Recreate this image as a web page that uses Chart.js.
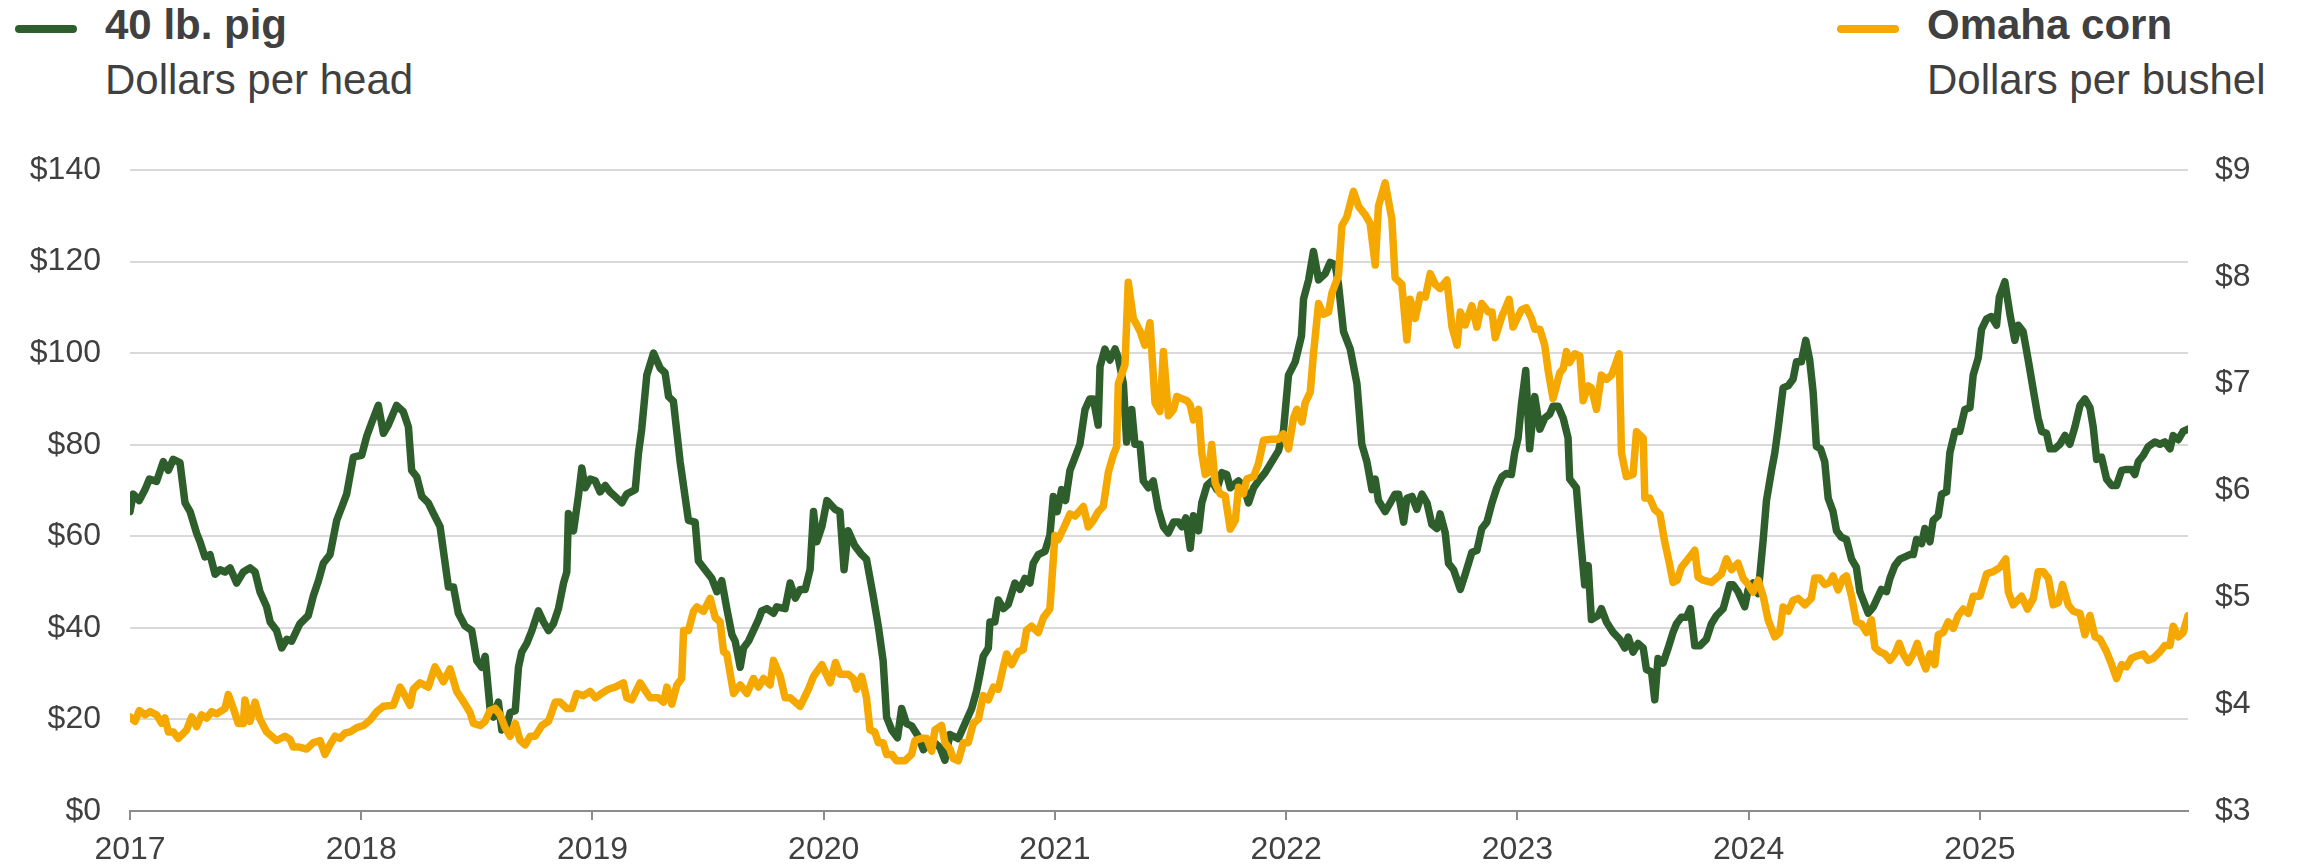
<!DOCTYPE html>
<html lang="en">
  <head>
    <meta charset="utf-8">
    <title>40 lb. pig vs Omaha corn</title>
    <script src="https://cdn.jsdelivr.net/npm/chart.js@4.4.1/dist/chart.umd.min.js"></script>
    <style>
      body { margin: 0; background: #fff; }
      #wrap { position: relative; width: 2300px; height: 867px; font-family: "Liberation Sans", Arial, sans-serif; color: #404040; }
      .key { position: absolute; height: 8px; border-radius: 4px; }
      .lab { position: absolute; font-size: 42px; line-height: 42px; white-space: nowrap; }
      .lab b { font-weight: bold; }
    </style>
  </head>
  <body>
    <div id="wrap">
      <div class="key" style="left:15px; top:25px; width:62px; background:#2f5e2d;"></div>
      <div class="lab" style="left:105px; top:4px;"><b>40 lb. pig</b></div>
      <div class="lab" style="left:105px; top:59px;">Dollars per head</div>
      <div class="key" style="left:1837px; top:25px; width:62px; background:#f5a800;"></div>
      <div class="lab" style="left:1927px; top:4px;"><b>Omaha corn</b></div>
      <div class="lab" style="left:1927px; top:59px;">Dollars per bushel</div>
      <canvas id="myChart" width="2300" height="867" style="position:absolute; left:0; top:0;"></canvas>
    </div>
    <script>
      // weekly-ish readings, x in decimal years
      const yearTicks = [2017, 2018, 2019, 2020, 2021, 2022, 2023, 2024, 2025];
      const pigTicks = [0, 20, 40, 60, 80, 100, 120, 140];
      const cornTicks = [3, 4, 5, 6, 7, 8, 9];

      const pigYears = [
        2017.000, 2017.014, 2017.040, 2017.065, 2017.084, 2017.115, 2017.144, 2017.166, 2017.187, 2017.216,
        2017.238, 2017.260, 2017.288, 2017.303, 2017.324, 2017.346, 2017.368, 2017.389, 2017.411, 2017.433,
        2017.461, 2017.490, 2017.519, 2017.541, 2017.562, 2017.591, 2017.606, 2017.634, 2017.656, 2017.678,
        2017.699, 2017.735, 2017.771, 2017.793, 2017.815, 2017.836, 2017.865, 2017.894, 2017.916, 2017.937,
        2017.966, 2018.002, 2018.024, 2018.045, 2018.074, 2018.096, 2018.117, 2018.153, 2018.182, 2018.204,
        2018.218, 2018.240, 2018.262, 2018.290, 2018.312, 2018.341, 2018.377, 2018.399, 2018.420, 2018.449,
        2018.478, 2018.500, 2018.521, 2018.536, 2018.557, 2018.572, 2018.593, 2018.608, 2018.629, 2018.644,
        2018.666, 2018.680, 2018.694, 2018.716, 2018.738, 2018.766, 2018.788, 2018.810, 2018.831, 2018.853,
        2018.875, 2018.889, 2018.896, 2018.918, 2018.939, 2018.954, 2018.968, 2018.990, 2019.012, 2019.033,
        2019.055, 2019.076, 2019.098, 2019.127, 2019.148, 2019.185, 2019.199, 2019.213, 2019.235, 2019.264,
        2019.293, 2019.314, 2019.329, 2019.350, 2019.379, 2019.415, 2019.444, 2019.458, 2019.487, 2019.516,
        2019.538, 2019.559, 2019.581, 2019.603, 2019.617, 2019.639, 2019.653, 2019.675, 2019.696, 2019.718,
        2019.732, 2019.754, 2019.783, 2019.797, 2019.833, 2019.855, 2019.877, 2019.898, 2019.920, 2019.941,
        2019.956, 2019.970, 2019.992, 2020.014, 2020.049, 2020.070, 2020.088, 2020.106, 2020.135, 2020.164,
        2020.185, 2020.214, 2020.236, 2020.257, 2020.272, 2020.294, 2020.319, 2020.337, 2020.358, 2020.380,
        2020.409, 2020.431, 2020.452, 2020.481, 2020.503, 2020.524, 2020.546, 2020.582, 2020.611, 2020.640,
        2020.661, 2020.676, 2020.690, 2020.712, 2020.719, 2020.740, 2020.755, 2020.777, 2020.798, 2020.827,
        2020.849, 2020.870, 2020.892, 2020.906, 2020.928, 2020.957, 2020.978, 2020.993, 2021.010, 2021.029,
        2021.046, 2021.065, 2021.087, 2021.108, 2021.130, 2021.151, 2021.166, 2021.187, 2021.195, 2021.216,
        2021.238, 2021.260, 2021.274, 2021.296, 2021.310, 2021.332, 2021.346, 2021.368, 2021.382, 2021.404,
        2021.425, 2021.447, 2021.469, 2021.490, 2021.513, 2021.534, 2021.549, 2021.566, 2021.585, 2021.599,
        2021.621, 2021.635, 2021.657, 2021.678, 2021.700, 2021.722, 2021.743, 2021.758, 2021.794, 2021.815,
        2021.837, 2021.859, 2021.880, 2021.909, 2021.938, 2021.967, 2021.988, 2022.010, 2022.039, 2022.066,
        2022.075, 2022.097, 2022.118, 2022.140, 2022.169, 2022.190, 2022.212, 2022.226, 2022.248, 2022.277,
        2022.306, 2022.327, 2022.349, 2022.371, 2022.385, 2022.399, 2022.428, 2022.450, 2022.471, 2022.486,
        2022.508, 2022.522, 2022.544, 2022.565, 2022.587, 2022.609, 2022.630, 2022.652, 2022.666, 2022.688,
        2022.702, 2022.724, 2022.753, 2022.774, 2022.803, 2022.825, 2022.846, 2022.868, 2022.890, 2022.911,
        2022.933, 2022.952, 2022.974, 2022.988, 2023.003, 2023.017, 2023.036, 2023.053, 2023.075, 2023.097,
        2023.118, 2023.140, 2023.154, 2023.176, 2023.198, 2023.219, 2023.226, 2023.255, 2023.270, 2023.291,
        2023.306, 2023.320, 2023.349, 2023.363, 2023.385, 2023.414, 2023.443, 2023.464, 2023.479, 2023.500,
        2023.522, 2023.544, 2023.558, 2023.580, 2023.594, 2023.608, 2023.630, 2023.652, 2023.673, 2023.688,
        2023.709, 2023.731, 2023.748, 2023.767, 2023.789, 2023.817, 2023.839, 2023.861, 2023.890, 2023.918,
        2023.933, 2023.954, 2023.983, 2023.998, 2024.019, 2024.041, 2024.063, 2024.077, 2024.099, 2024.113,
        2024.127, 2024.149, 2024.171, 2024.192, 2024.207, 2024.228, 2024.247, 2024.264, 2024.279, 2024.293,
        2024.311, 2024.329, 2024.344, 2024.365, 2024.380, 2024.401, 2024.423, 2024.445, 2024.466, 2024.481,
        2024.495, 2024.517, 2024.539, 2024.574, 2024.596, 2024.611, 2024.632, 2024.654, 2024.676, 2024.697,
        2024.712, 2024.726, 2024.748, 2024.762, 2024.784, 2024.798, 2024.820, 2024.834, 2024.856, 2024.870,
        2024.892, 2024.913, 2024.935, 2024.957, 2024.971, 2024.993, 2025.007, 2025.029, 2025.050, 2025.072,
        2025.084, 2025.108, 2025.130, 2025.151, 2025.166, 2025.187, 2025.209, 2025.231, 2025.252, 2025.267,
        2025.288, 2025.303, 2025.324, 2025.346, 2025.368, 2025.389, 2025.411, 2025.433, 2025.454, 2025.476,
        2025.490, 2025.505, 2025.526, 2025.548, 2025.570, 2025.591, 2025.613, 2025.634, 2025.656, 2025.670,
        2025.685, 2025.707, 2025.728, 2025.757, 2025.779, 2025.800, 2025.822, 2025.836, 2025.858, 2025.879,
        2025.900
      ];
      const pigValues = [
        65.4, 69.2, 67.8, 70.2, 72.5, 72.0, 76.3, 74.4, 76.8, 76.1,
        67.3, 65.4, 60.7, 58.8, 55.5, 56.0, 51.7, 52.7, 52.2, 53.1,
        49.8, 52.2, 53.1, 52.2, 47.9, 44.6, 41.3, 39.4, 35.6, 37.5,
        37.1, 40.9, 42.7, 47.0, 50.3, 54.1, 56.0, 63.5, 66.4, 69.2,
        77.3, 77.7, 81.9, 84.8, 88.6, 82.5, 84.3, 88.6, 87.2, 83.9,
        74.4, 73.0, 68.7, 67.3, 65.0, 62.1, 48.9, 48.9, 43.2, 40.4,
        39.4, 32.8, 31.4, 33.8, 22.4, 20.5, 23.8, 17.7, 18.6, 21.5,
        21.9, 31.4, 34.7, 36.6, 39.4, 43.7, 41.3, 39.4, 40.9, 44.2,
        49.8, 52.2, 65.0, 61.2, 68.7, 74.9, 70.6, 72.5, 72.1, 69.7,
        71.1, 69.7, 68.7, 67.3, 69.2, 70.2, 78.2, 83.4, 95.2, 100.0,
        96.7, 95.7, 90.5, 89.5, 76.3, 63.5, 63.1, 54.6, 52.7, 50.8,
        47.9, 50.3, 44.2, 38.5, 37.1, 31.4, 35.6, 37.1, 39.4, 41.8,
        43.7, 44.2, 43.2, 44.6, 44.2, 49.8, 46.5, 48.4, 48.4, 52.7,
        65.4, 58.8, 62.1, 67.8, 65.9, 65.4, 52.7, 61.2, 57.9, 56.0,
        55.0, 47.0, 40.4, 32.8, 20.5, 17.7, 16.0, 22.4, 19.1, 18.6,
        16.3, 13.4, 14.4, 14.8, 13.9, 11.1, 16.7, 15.8, 19.1, 22.4,
        26.2, 30.0, 33.8, 35.6, 41.3, 41.3, 46.1, 44.2, 45.1, 49.8,
        48.4, 50.8, 49.8, 54.1, 56.0, 56.7, 60.2, 68.7, 65.4, 70.2,
        67.8, 74.4, 77.3, 80.1, 87.7, 90.0, 90.0, 84.3, 97.1, 100.9,
        98.5, 100.9, 99.0, 93.3, 80.6, 87.7, 80.1, 80.1, 72.1, 70.6,
        72.1, 65.9, 62.1, 60.7, 63.1, 63.1, 62.1, 64.0, 57.4, 64.5,
        61.2, 67.3, 71.1, 72.1, 70.2, 73.9, 73.5, 70.6, 72.1, 71.1,
        67.3, 70.6, 72.1, 73.9, 76.3, 78.7, 82.9, 95.2, 98.1, 103.7,
        111.8, 116.0, 122.2, 116.0, 117.4, 119.8, 119.3, 115.1, 104.7, 100.9,
        93.3, 80.1, 76.3, 70.2, 72.5, 67.8, 65.4, 67.3, 69.2, 69.2,
        63.1, 68.3, 68.7, 65.9, 69.2, 67.3, 62.6, 61.7, 64.9, 60.7,
        54.1, 52.7, 48.4, 51.7, 56.5, 56.9, 61.7, 63.1, 67.3, 70.6,
        73.0, 73.7, 73.5, 78.2, 81.5, 88.6, 96.2, 79.1, 90.5, 83.4,
        85.8, 86.7, 88.4, 88.4, 85.8, 81.5, 72.5, 70.6, 61.2, 49.4,
        53.6, 41.8, 42.7, 44.2, 41.3, 39.0, 37.5, 35.6, 38.0, 34.7,
        36.6, 35.6, 30.9, 30.4, 24.3, 33.3, 32.3, 35.6, 39.0, 40.9,
        42.3, 42.3, 44.2, 36.1, 36.1, 37.5, 40.9, 42.7, 44.2, 49.4,
        49.4, 47.9, 44.6, 48.4, 49.8, 47.5, 59.3, 67.8, 74.4, 78.2,
        83.4, 92.4, 92.9, 94.3, 98.1, 98.1, 102.8, 98.5, 91.4, 79.6,
        79.1, 76.3, 68.3, 65.4, 61.2, 59.8, 59.3, 55.0, 53.2, 47.9,
        46.1, 43.2, 44.6, 48.4, 47.9, 50.8, 53.6, 55.0, 55.5, 56.0,
        56.0, 59.3, 58.4, 61.7, 58.8, 63.5, 64.5, 69.2, 69.7, 78.2,
        82.9, 82.9, 87.7, 88.1, 95.2, 99.0, 105.2, 107.5, 108.0, 106.1,
        112.2, 115.6, 108.5, 102.8, 106.1, 104.7, 98.5, 91.9, 85.8, 82.9,
        82.5, 79.1, 79.1, 80.1, 82.0, 80.1, 83.9, 88.6, 90.0, 88.1,
        83.9, 76.8, 77.3, 72.5, 71.1, 71.1, 74.4, 74.6, 74.6, 73.5,
        76.3, 77.7, 79.6, 80.6, 80.1, 80.6, 79.1, 82.0, 81.1, 82.9,
        83.4
      ];

      const cornYears = [
        2017.000, 2017.022, 2017.040, 2017.065, 2017.087, 2017.115, 2017.137, 2017.151, 2017.166, 2017.187,
        2017.209, 2017.245, 2017.267, 2017.288, 2017.310, 2017.332, 2017.353, 2017.375, 2017.411, 2017.425,
        2017.447, 2017.468, 2017.490, 2017.497, 2017.519, 2017.541, 2017.562, 2017.591, 2017.634, 2017.670,
        2017.692, 2017.706, 2017.728, 2017.764, 2017.793, 2017.822, 2017.843, 2017.865, 2017.887, 2017.908,
        2017.930, 2017.952, 2017.981, 2018.010, 2018.038, 2018.067, 2018.096, 2018.139, 2018.168, 2018.189,
        2018.211, 2018.225, 2018.254, 2018.290, 2018.319, 2018.355, 2018.384, 2018.413, 2018.449, 2018.471,
        2018.485, 2018.514, 2018.536, 2018.557, 2018.579, 2018.601, 2018.622, 2018.644, 2018.666, 2018.687,
        2018.709, 2018.731, 2018.752, 2018.781, 2018.810, 2018.839, 2018.860, 2018.889, 2018.911, 2018.932,
        2018.961, 2018.990, 2019.012, 2019.040, 2019.069, 2019.098, 2019.134, 2019.148, 2019.170, 2019.206,
        2019.249, 2019.285, 2019.307, 2019.322, 2019.343, 2019.365, 2019.386, 2019.394, 2019.415, 2019.437,
        2019.451, 2019.480, 2019.509, 2019.531, 2019.552, 2019.567, 2019.581, 2019.610, 2019.639, 2019.668,
        2019.696, 2019.718, 2019.740, 2019.768, 2019.783, 2019.812, 2019.833, 2019.855, 2019.898, 2019.934,
        2019.956, 2019.992, 2020.028, 2020.051, 2020.070, 2020.106, 2020.128, 2020.142, 2020.164, 2020.185,
        2020.200, 2020.221, 2020.236, 2020.257, 2020.272, 2020.294, 2020.315, 2020.351, 2020.380, 2020.395,
        2020.423, 2020.445, 2020.467, 2020.481, 2020.510, 2020.524, 2020.546, 2020.560, 2020.582, 2020.604,
        2020.625, 2020.647, 2020.669, 2020.690, 2020.712, 2020.734, 2020.755, 2020.777, 2020.791, 2020.813,
        2020.841, 2020.863, 2020.877, 2020.899, 2020.928, 2020.950, 2020.978, 2021.000, 2021.014, 2021.036,
        2021.065, 2021.087, 2021.123, 2021.144, 2021.166, 2021.187, 2021.209, 2021.231, 2021.252, 2021.267,
        2021.274, 2021.303, 2021.317, 2021.339, 2021.368, 2021.389, 2021.411, 2021.433, 2021.454, 2021.469,
        2021.491, 2021.513, 2021.527, 2021.549, 2021.571, 2021.585, 2021.599, 2021.621, 2021.635, 2021.650,
        2021.664, 2021.678, 2021.693, 2021.714, 2021.736, 2021.758, 2021.780, 2021.794, 2021.815, 2021.830,
        2021.859, 2021.880, 2021.902, 2021.938, 2021.967, 2021.988, 2022.010, 2022.032, 2022.046, 2022.068,
        2022.082, 2022.104, 2022.118, 2022.140, 2022.161, 2022.183, 2022.198, 2022.226, 2022.241, 2022.262,
        2022.291, 2022.313, 2022.342, 2022.363, 2022.385, 2022.399, 2022.428, 2022.457, 2022.471, 2022.500,
        2022.522, 2022.536, 2022.558, 2022.580, 2022.602, 2022.623, 2022.645, 2022.666, 2022.695, 2022.717,
        2022.739, 2022.753, 2022.774, 2022.803, 2022.825, 2022.846, 2022.875, 2022.890, 2022.904, 2022.933,
        2022.945, 2022.964, 2022.981, 2023.003, 2023.017, 2023.039, 2023.061, 2023.075, 2023.097, 2023.118,
        2023.133, 2023.154, 2023.169, 2023.183, 2023.198, 2023.212, 2023.226, 2023.248, 2023.270, 2023.284,
        2023.306, 2023.320, 2023.342, 2023.363, 2023.385, 2023.407, 2023.421, 2023.440, 2023.450, 2023.471,
        2023.500, 2023.515, 2023.544, 2023.551, 2023.572, 2023.594, 2023.616, 2023.637, 2023.659, 2023.673,
        2023.691, 2023.709, 2023.731, 2023.746, 2023.767, 2023.781, 2023.803, 2023.839, 2023.861, 2023.882,
        2023.904, 2023.926, 2023.954, 2023.976, 2023.998, 2024.019, 2024.041, 2024.063, 2024.084, 2024.113,
        2024.134, 2024.149, 2024.171, 2024.192, 2024.214, 2024.243, 2024.271, 2024.286, 2024.307, 2024.329,
        2024.351, 2024.365, 2024.387, 2024.409, 2024.423, 2024.445, 2024.466, 2024.488, 2024.510, 2024.531,
        2024.546, 2024.567, 2024.589, 2024.611, 2024.632, 2024.651, 2024.668, 2024.690, 2024.712, 2024.729,
        2024.748, 2024.766, 2024.784, 2024.805, 2024.820, 2024.841, 2024.863, 2024.885, 2024.906, 2024.928,
        2024.950, 2024.971, 2025.000, 2025.029, 2025.058, 2025.087, 2025.112, 2025.123, 2025.144, 2025.180,
        2025.206, 2025.231, 2025.252, 2025.274, 2025.296, 2025.317, 2025.339, 2025.357, 2025.382, 2025.404,
        2025.433, 2025.454, 2025.476, 2025.498, 2025.519, 2025.548, 2025.570, 2025.591, 2025.613, 2025.634,
        2025.656, 2025.677, 2025.706, 2025.728, 2025.750, 2025.779, 2025.800, 2025.822, 2025.836, 2025.858,
        2025.879, 2025.900
      ];
      const cornValues = [
        3.88, 3.84, 3.94, 3.90, 3.93, 3.90, 3.82, 3.87, 3.74, 3.74,
        3.68, 3.76, 3.88, 3.79, 3.90, 3.87, 3.93, 3.91, 3.96, 4.09,
        3.96, 3.82, 3.82, 4.04, 3.84, 4.02, 3.86, 3.74, 3.66, 3.70,
        3.67, 3.60, 3.60, 3.58, 3.64, 3.66, 3.53, 3.62, 3.70, 3.68,
        3.73, 3.74, 3.78, 3.80, 3.85, 3.93, 3.98, 3.99, 4.16, 4.08,
        3.99, 4.14, 4.20, 4.16, 4.35, 4.21, 4.33, 4.12, 4.00, 3.92,
        3.82, 3.80, 3.84, 3.94, 3.96, 3.90, 3.78, 3.70, 3.82, 3.66,
        3.62, 3.70, 3.70, 3.80, 3.84, 4.02, 4.02, 3.96, 3.96, 4.10,
        4.08, 4.12, 4.06, 4.10, 4.14, 4.16, 4.20, 4.06, 4.04, 4.20,
        4.06, 4.06, 4.02, 4.16, 4.00, 4.18, 4.24, 4.69, 4.69, 4.87,
        4.91, 4.87, 4.99, 4.81, 4.77, 4.49, 4.47, 4.10, 4.18, 4.10,
        4.24, 4.16, 4.24, 4.18, 4.41, 4.26, 4.06, 4.06, 3.98, 4.14,
        4.26, 4.37, 4.20, 4.39, 4.28, 4.28, 4.24, 4.14, 4.26, 4.06,
        3.76, 3.74, 3.64, 3.64, 3.53, 3.53, 3.47, 3.47, 3.53, 3.66,
        3.68, 3.68, 3.56, 3.76, 3.80, 3.64, 3.58, 3.49, 3.47, 3.64,
        3.64, 3.82, 3.86, 4.08, 4.04, 4.16, 4.14, 4.35, 4.47, 4.37,
        4.49, 4.51, 4.69, 4.73, 4.67, 4.81, 4.89, 5.58, 5.54, 5.64,
        5.78, 5.76, 5.85, 5.66, 5.72, 5.80, 5.85, 6.17, 6.33, 6.41,
        7.00, 7.18, 7.95, 7.61, 7.49, 7.36, 7.57, 6.82, 6.74, 7.30,
        6.70, 6.76, 6.88, 6.86, 6.84, 6.80, 6.66, 6.76, 6.35, 6.15,
        6.17, 6.43, 6.07, 5.97, 5.95, 5.64, 5.72, 6.03, 5.97, 6.11,
        6.13, 6.25, 6.47, 6.48, 6.48, 6.53, 6.39, 6.68, 6.76, 6.64,
        6.82, 6.92, 7.28, 7.75, 7.65, 7.67, 7.85, 8.01, 8.48, 8.56,
        8.80, 8.66, 8.58, 8.50, 8.11, 8.66, 8.88, 8.54, 7.99, 7.93,
        7.41, 7.79, 7.61, 7.83, 7.81, 8.03, 7.93, 7.89, 7.97, 7.53,
        7.36, 7.67, 7.55, 7.73, 7.53, 7.75, 7.67, 7.67, 7.43, 7.63,
        7.69, 7.79, 7.53, 7.63, 7.69, 7.71, 7.61, 7.51, 7.51, 7.36,
        7.12, 6.86, 6.98, 7.10, 7.14, 7.30, 7.20, 7.28, 7.26, 6.84,
        6.98, 6.96, 6.76, 7.08, 7.04, 7.08, 7.16, 7.28, 6.35, 6.13,
        6.15, 6.55, 6.49, 5.93, 5.93, 5.82, 5.78, 5.52, 5.30, 5.14,
        5.16, 5.28, 5.34, 5.38, 5.44, 5.19, 5.16, 5.14, 5.18, 5.22,
        5.36, 5.26, 5.32, 5.18, 5.12, 5.05, 5.16, 5.01, 4.79, 4.63,
        4.67, 4.91, 4.87, 4.97, 4.99, 4.93, 4.99, 5.18, 5.18, 5.12,
        5.14, 5.20, 5.07, 5.18, 5.20, 5.01, 4.77, 4.75, 4.67, 4.79,
        4.53, 4.49, 4.47, 4.41, 4.47, 4.57, 4.47, 4.39, 4.47, 4.57,
        4.43, 4.33, 4.47, 4.37, 4.65, 4.67, 4.77, 4.71, 4.83, 4.89,
        4.85, 5.01, 5.01, 5.22, 5.24, 5.28, 5.36, 5.05, 4.93, 5.01,
        4.89, 4.99, 5.24, 5.24, 5.18, 4.93, 4.95, 5.12, 4.93, 4.87,
        4.85, 4.65, 4.83, 4.63, 4.61, 4.49, 4.37, 4.24, 4.37, 4.35,
        4.43, 4.45, 4.47, 4.41, 4.43, 4.49, 4.55, 4.55, 4.73, 4.63,
        4.67, 4.83
      ];

      const font = { family: '"Liberation Sans", Arial, sans-serif', size: 32 };
      const textColor = '#404040';

      new Chart(document.getElementById('myChart'), {
        type: 'line',
        data: {
          datasets: [
            {
              label: 'Omaha corn',
              data: cornYears.map((x, i) => ({ x: x, y: cornValues[i] })),
              yAxisID: 'yCorn',
              borderColor: '#f5a800',
              borderWidth: 7.5,
              pointRadius: 0,
              tension: 0,
              borderJoinStyle: 'round',
              borderCapStyle: 'round',
              order: 0
            },
            {
              label: '40 lb. pig',
              data: pigYears.map((x, i) => ({ x: x, y: pigValues[i] })),
              yAxisID: 'yPig',
              borderColor: '#2f5e2d',
              borderWidth: 7.5,
              pointRadius: 0,
              tension: 0,
              borderJoinStyle: 'round',
              borderCapStyle: 'round',
              order: 1
            }
          ]
        },
        options: {
          responsive: false,
          animation: false,
          devicePixelRatio: 1,
          layout: { padding: { top: 170, left: 0, right: 0, bottom: 0 } },
          plugins: { legend: { display: false }, tooltip: { enabled: false } },
          scales: {
            x: {
              type: 'linear',
              position: 'bottom',
              min: 2017,
              max: 2025.9,
              afterBuildTicks: s => { s.ticks = yearTicks.map(v => ({ value: v })); },
              afterFit: s => { s.height = 56; },
              grid: { drawOnChartArea: false, drawTicks: true, tickLength: 9, color: '#8c8c8c', lineWidth: 2 },
              border: { display: true, color: '#8c8c8c', width: 2 },
              ticks: { font: font, color: textColor, padding: 11, maxRotation: 0, autoSkip: false,
                       callback: v => String(v) }
            },
            yPig: {
              position: 'left',
              min: 0,
              max: 140,
              afterBuildTicks: s => { s.ticks = pigTicks.map(v => ({ value: v })); },
              afterFit: s => { s.width = 130; },
              grid: { color: '#d9d9d9', lineWidth: 2, drawTicks: false },
              border: { display: false },
              ticks: { font: font, color: textColor, padding: 29, callback: v => '$' + v }
            },
            yCorn: {
              position: 'right',
              min: 3,
              max: 9,
              afterBuildTicks: s => { s.ticks = cornTicks.map(v => ({ value: v })); },
              afterFit: s => { s.width = 112; },
              grid: { drawOnChartArea: false, drawTicks: false },
              border: { display: false },
              ticks: { font: font, color: textColor, padding: 27, callback: v => '$' + v }
            }
          }
        }
      });
    </script>
  </body>
</html>
